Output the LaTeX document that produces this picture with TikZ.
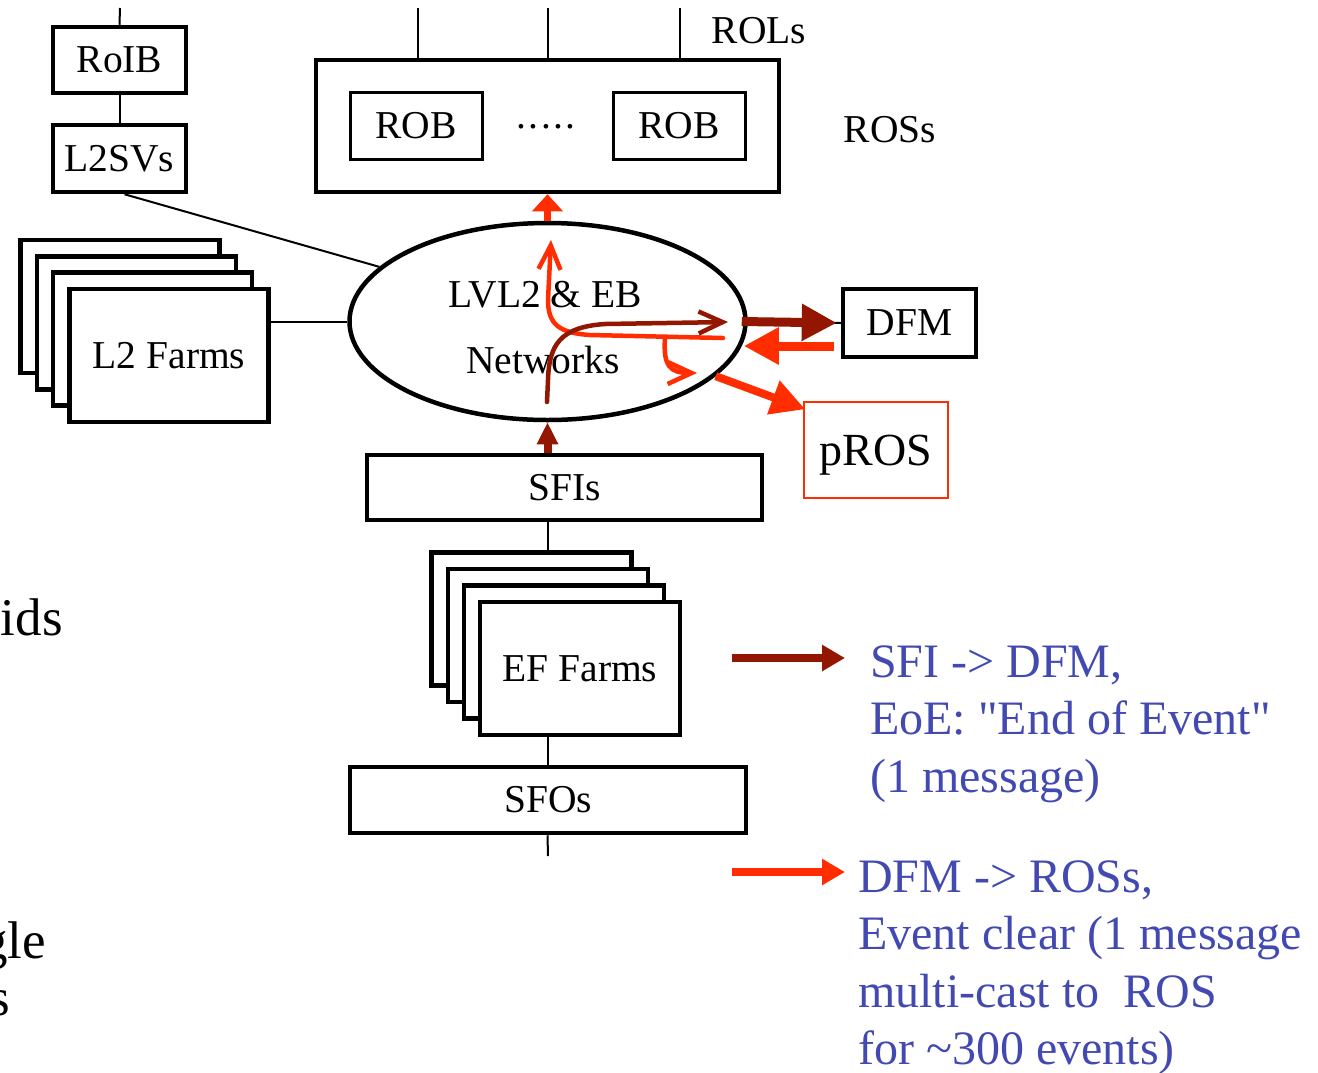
\documentclass[tikz,border=0pt]{standalone}
\usepackage{fontspec}
\setmainfont{Liberation Serif}
\newfontfamily\legendfont{Liberation Serif}
\usepackage{tikz}
\usetikzlibrary{shapes, arrows.meta, positioning, calc}
\definecolor{eoered}{RGB}{146,22,0}
\definecolor{clrred}{RGB}{255,45,0}
\definecolor{noteblue}{RGB}{66,74,178}
\tikzstyle{block} = [rectangle, draw, line width=4.5pt, fill=white, inner sep=0pt, font=\fontsize{39.5}{42}\selectfont]
\tikzstyle{rob} = [block, line width=3pt, minimum width=132pt, minimum height=67pt]
\tikzstyle{farm} = [block, minimum width=199pt, minimum height=133pt]
\tikzstyle{word} = [inner sep=0pt, font=\fontsize{39.5}{42}\selectfont]
\tikzstyle{wire} = [line width=2pt]
\tikzstyle{trace} = [line width=4.5pt, line cap=round, -{Straight Barb[length=24pt, width=22pt, line width=4.5pt]}]
\tikzstyle{note} = [inner sep=0pt, align=left, text=noteblue, font=\legendfont\fontsize{48}{57.5}\selectfont]

\begin{document}
\begin{tikzpicture}[x=1pt, y=-1pt]
		\useasboundingbox (0,0) rectangle (1318,1072);
		
		% read-out side
		\node [block, minimum width=463pt, minimum height=132pt] (ros) at (547.5,126) {};
		\node [rob] (rob1) at (416,125.5) {ROB};
		\node [rob] (rob2) at (679,125.5) {ROB};
		\node [word] (dots) at (546,127) {.\kern2.5pt.\kern2.5pt.\kern2.5pt.\kern2.5pt.};
		\node [word] (rols) at (759,31) {ROLs};
		\node [word] (ross) at (890,130) {ROSs};
		\coordinate (rol1) at (418,8);
		\coordinate (rol2) at (548,8);
		\coordinate (rol3) at (680,8);
		\foreach \r in {rol1, rol2, rol3}
			\draw [wire] (\r) -- (\r |- ros.north);
		
		% level-2 side
		\node [block, minimum width=133pt, minimum height=66pt] (roib) at (119.5,60) {RoIB};
		\node [block, minimum width=133pt, minimum height=67pt] (l2svs) at (119.5,158.5) {L2SVs};
		\coordinate (roibin) at (120,8);
		\draw [wire] (roibin) -- (roib.north);
		\draw [wire] (roib.south) -- (l2svs.north);
		\foreach \k in {3,2,1}
			\node [farm] (l2f\k) at (169-16.3*\k, 355.5-16.3*\k) {};
		\node [farm] (l2f) at (169,355.5) {L2 Farms};
		
		% network
		\node [draw, ellipse, line width=4.5pt, inner sep=0pt, minimum width=396pt, minimum height=197pt] (net) at (547.5,321.5) {};
		\node [word] (neta) at (545,295) {LVL2 \& EB};
		\node [word] (netb) at (543,360) {Networks};
		\draw [wire] ($(l2svs.south)+(5,0)$) -- (net.162);
		\draw [wire] (l2f.east |- net.west) -- (net.west);
		
		\node [block, minimum width=133pt, minimum height=68pt] (dfm) at (909.5,323) {DFM};
		\node [block, draw=clrred, line width=1.5pt, minimum width=144pt, minimum height=96pt, text depth=0pt, font=\fontsize{46}{48}\selectfont] (pros) at (876,450) {pROS};
		
		% event filter side
		\node [block, minimum width=395pt, minimum height=65pt] (sfi) at (564.5,487.5) {SFIs};
		\foreach \k in {3,2,1}
			\node [farm, minimum width=200pt] (ef\k) at (580-16.1*\k, 668.5-16.5*\k) {};
		\node [farm, minimum width=200pt] (ef) at (580,668.5) {EF Farms};
		\node [block, minimum width=396pt, minimum height=66pt] (sfo) at (548,800) {SFOs};
		\coordinate (sfoout) at (548,856);
		\draw [wire] (net.south |- sfi.south) -- (net.south |- ef3.north);
		\draw [wire] (net.south |- ef.south) -- (net.south |- sfo.north);
		\draw [wire] (net.south |- sfo.south) -- (sfoout);
		
		% message flow
		\draw [wire] (net.east) -- (dfm.west);
		\draw [eoered, line width=9pt, -{Triangle[length=35pt, width=35pt]}, shorten >=4pt] ($(net.east)+(-6,0)$) -- (dfm.west);
		\draw [clrred, line width=9pt, -{Triangle[length=35pt, width=35pt]}] ($(dfm.west)+(-7,23)$) -- ($(net.east)+(-4,24.5)$);
		\draw [clrred, line width=8pt, -{Triangle[length=34pt, width=34pt]}] (net.-18.6) -- ($(pros.north west)+(2,8)$);
		\draw [clrred, line width=7pt, -{Triangle[length=17pt, width=30pt]}] (net.north) -- (ros.south);
		\draw [eoered, line width=8pt, -{Triangle[length=22pt, width=20pt]}] (net.south |- sfi.north) -- (net.south);
		
		\draw [trace, clrred] (723,338) -- (590,335) .. controls (560,333) and (548,325) .. (548,300) -- (551,240);
		\draw [trace, clrred] (665,338) .. controls (663,366) and (670,373) .. (697,373);
		\draw [trace, eoered] (547,402) -- (548,380) .. controls (549,345) and (560,327) .. (605,324) -- (728,322);
		
		% legend
		\coordinate (k1a) at (732,658);
		\coordinate (k1b) at (845,658);
		\coordinate (k2a) at (732,872);
		\coordinate (k2b) at (845,872);
		\draw [eoered, line width=8pt, -{Triangle[length=23pt, width=25pt]}] (k1a) -- (k1b);
		\draw [clrred, line width=8pt, -{Triangle[length=23pt, width=25pt]}] (k2a) -- (k2b);
		\node [note, anchor=north west] (eoetext) at (870,645.5) {SFI -> DFM,\\EoE: "End of Event"\\(1 message)};
		\node [note, anchor=north west] (clrtext) at (858,860.5) {DFM -> ROSs,\\Event clear (1 message\\multi-cast to\ \ ROS\\for \textasciitilde300 events)};
		
		% cut-off text at the left edge
		\node [inner sep=0pt, anchor=base east, font=\fontsize{53}{55}\selectfont] (cuta) at (63,635) {ids};
		\node [inner sep=0pt, anchor=base east, font=\fontsize{53}{55}\selectfont] (cutb) at (46,958) {gle};
		\node [inner sep=0pt, anchor=base east, font=\fontsize{53}{55}\selectfont] (cutc) at (10,1015) {s};
	\end{tikzpicture}
\end{document}
